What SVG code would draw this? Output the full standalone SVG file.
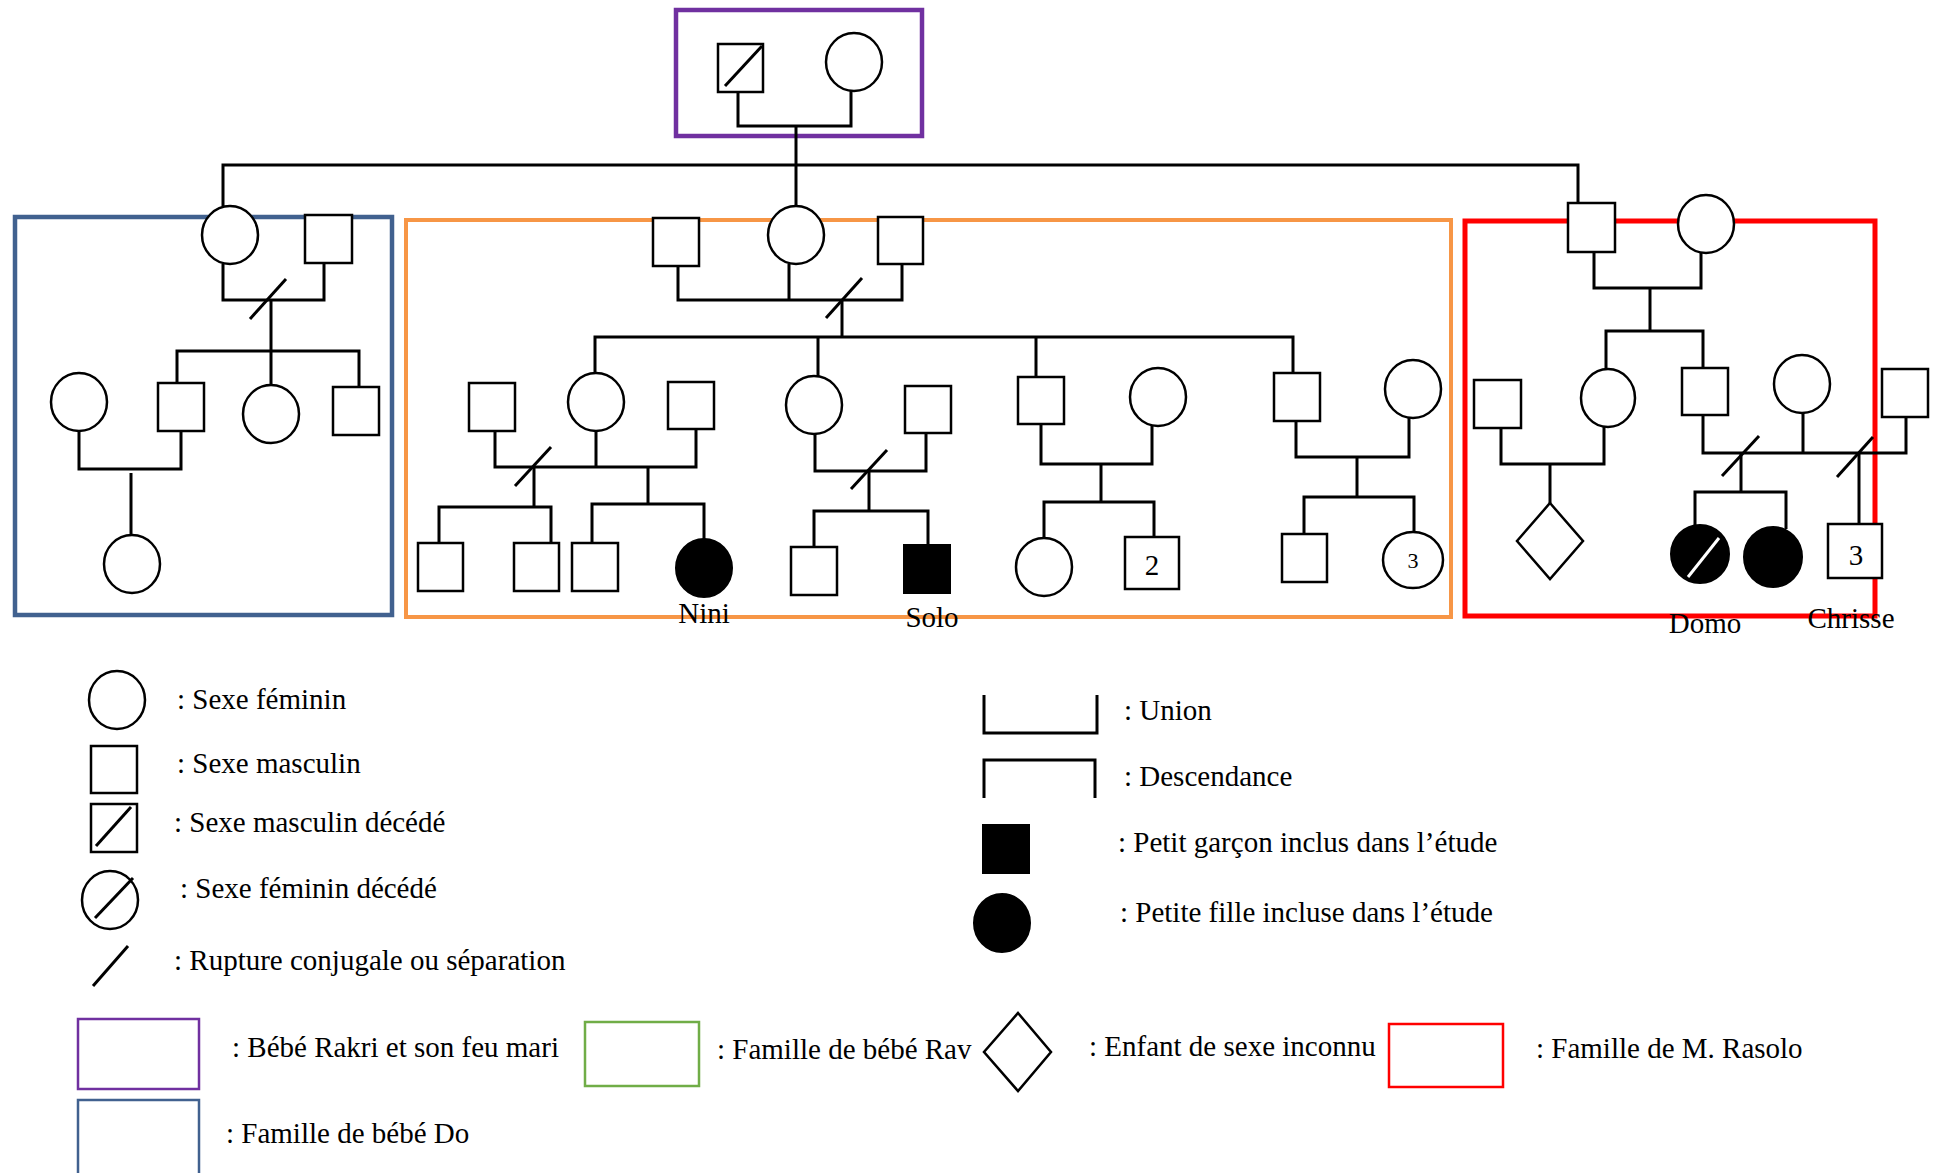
<svg xmlns="http://www.w3.org/2000/svg" width="1935" height="1173" viewBox="0 0 1935 1173">
<style>
.n{fill:#fff;stroke:#000;stroke-width:2.5}
.f{fill:#000;stroke:#000;stroke-width:2}
.c{fill:none;stroke:#000;stroke-width:3}
.t{font-family:"Liberation Serif","Times New Roman",serif;font-size:29px;fill:#000}
.lb{fill:none;stroke-width:2.5}
</style>
<rect width="1935" height="1173" fill="#fff"/>
<!-- family boxes -->
<g id="boxes" fill="none">
<rect id="box-rakri" x="676" y="10" width="246" height="126" stroke="#7030A0" stroke-width="4.5"/>
<rect id="box-do" x="15" y="217" width="377" height="398" stroke="#41618F" stroke-width="4.5"/>
<rect id="box-rav" x="406" y="220" width="1045" height="397" stroke="#F79646" stroke-width="4"/>
<rect id="box-rasolo" x="1465" y="221" width="410" height="395" stroke="#FF0000" stroke-width="5"/>
</g>
<!-- connectors -->
<g id="connectors">
<path class="c" d="M738,92 V126 H851 V91"/>
<path class="c" d="M796,126 V206"/>
<path class="c" d="M223,206 V165 H1578 V203"/>
<!-- blue family -->
<path class="c" d="M223,264 V300 H324 V263"/>
<path class="c" d="M271,300 V351"/>
<path class="c" d="M250,319 L286,279"/>
<path class="c" d="M177,383 V351 H359 V387 M271,351 V385"/>
<path class="c" d="M79,431 V469 H181 V431"/>
<path class="c" d="M131,473 V535"/>
<!-- orange family -->
<path class="c" d="M678,266 V300 H902 V264 M789,264 V300"/>
<path class="c" d="M842,300 V337"/>
<path class="c" d="M826,318 L862,278"/>
<path class="c" d="M595,373 V337 H1293 V373 M818,337 V377 M1036,337 V377"/>
<path class="c" d="M495,431 V467 H696 V429 M596,431 V467"/>
<path class="c" d="M515,486 L551,447"/>
<path class="c" d="M534,467 V507 M648,467 V504"/>
<path class="c" d="M439,543 V507 H551 V543"/>
<path class="c" d="M592,543 V504 H704 V540"/>
<path class="c" d="M815,434 V471 H926 V433"/>
<path class="c" d="M851,489 L887,450"/>
<path class="c" d="M869,471 V511"/>
<path class="c" d="M814,547 V511 H928 V545"/>
<path class="c" d="M1041,424 V464 H1152 V426"/>
<path class="c" d="M1101,464 V502"/>
<path class="c" d="M1044,538 V502 H1154 V537"/>
<path class="c" d="M1296,421 V457 H1409 V418"/>
<path class="c" d="M1357,457 V497"/>
<path class="c" d="M1304,534 V497 H1414 V532"/>
<!-- red family -->
<path class="c" d="M1594,252 V288 H1701 V253"/>
<path class="c" d="M1650,288 V331"/>
<path class="c" d="M1606,369 V331 H1703 V368"/>
<path class="c" d="M1501,428 V464 H1604 V427"/>
<path class="c" d="M1550,464 V503"/>
<path class="c" d="M1703,415 V453 H1906 V417 M1803,413 V453"/>
<path class="c" d="M1722,476 L1759,436"/>
<path class="c" d="M1741,453 V492"/>
<path class="c" d="M1695,526 V492 H1786 V529"/>
<path class="c" d="M1837,477 L1873,437"/>
<path class="c" d="M1859,453 V524"/>
</g>
<!-- nodes -->
<g id="rakri-husband"><rect class="n" x="718" y="44" width="45" height="48"/><path class="c" d="M725,86 L762,46"/></g>
<g id="rakri"><ellipse class="n" cx="854" cy="62" rx="28" ry="29"/></g>
<g id="do-mother"><ellipse class="n" cx="230" cy="235" rx="28" ry="29"/></g>
<g id="do-father"><rect class="n" x="305" y="215" width="47" height="48"/></g>
<g id="do-child1"><ellipse class="n" cx="79" cy="402" rx="28" ry="29"/></g>
<g id="do-child2"><rect class="n" x="158" y="383" width="46" height="48"/></g>
<g id="do-child3"><ellipse class="n" cx="271" cy="414" rx="28" ry="29"/></g>
<g id="do-child4"><rect class="n" x="333" y="387" width="46" height="48"/></g>
<g id="do-grandchild"><ellipse class="n" cx="132" cy="564" rx="28" ry="29"/></g>
<g id="rav-husband1"><rect class="n" x="653" y="218" width="46" height="48"/></g>
<g id="rav"><ellipse class="n" cx="796" cy="235" rx="28" ry="29"/></g>
<g id="rav-husband2"><rect class="n" x="878" y="217" width="45" height="47"/></g>
<g id="a-husband1"><rect class="n" x="469" y="383" width="46" height="48"/></g>
<g id="a-mother"><ellipse class="n" cx="596" cy="402" rx="28" ry="29"/></g>
<g id="a-husband2"><rect class="n" x="668" y="382" width="46" height="47"/></g>
<g id="a-child1"><rect class="n" x="418" y="543" width="45" height="48"/></g>
<g id="a-child2"><rect class="n" x="514" y="543" width="45" height="48"/></g>
<g id="a-child3"><rect class="n" x="572" y="543" width="46" height="48"/></g>
<g id="nini"><ellipse class="f" cx="704" cy="568" rx="28" ry="29"/><text class="t" x="704" y="623" text-anchor="middle">Nini</text></g>
<g id="b-mother"><ellipse class="n" cx="814" cy="405" rx="28" ry="29"/></g>
<g id="b-father"><rect class="n" x="905" y="386" width="46" height="47"/></g>
<g id="b-child"><rect class="n" x="791" y="547" width="46" height="48"/></g>
<g id="solo"><rect class="f" x="904" y="545" width="46" height="48"/><text class="t" x="932" y="627" text-anchor="middle">Solo</text></g>
<g id="c-father"><rect class="n" x="1018" y="377" width="46" height="47"/></g>
<g id="c-mother"><ellipse class="n" cx="1158" cy="397" rx="28" ry="29"/></g>
<g id="c-child1"><ellipse class="n" cx="1044" cy="567" rx="28" ry="29"/></g>
<g id="c-child2"><rect class="n" x="1125" y="537" width="54" height="52"/><text class="t" x="1152" y="575" text-anchor="middle">2</text></g>
<g id="d-father"><rect class="n" x="1274" y="373" width="46" height="48"/></g>
<g id="d-mother"><ellipse class="n" cx="1413" cy="389" rx="28" ry="29"/></g>
<g id="d-child1"><rect class="n" x="1282" y="534" width="45" height="48"/></g>
<g id="d-child2"><ellipse class="n" cx="1413" cy="560" rx="30" ry="28"/><text class="t" x="1413" y="568" text-anchor="middle" style="font-size:22px">3</text></g>
<g id="rasolo-father"><rect class="n" x="1568" y="203" width="47" height="49"/></g>
<g id="rasolo-mother"><ellipse class="n" cx="1706" cy="224" rx="28" ry="29"/></g>
<g id="e-father"><rect class="n" x="1474" y="380" width="47" height="48"/></g>
<g id="e-mother"><ellipse class="n" cx="1608" cy="398" rx="27" ry="29"/></g>
<g id="e-child"><polygon class="n" points="1550,503 1583,541 1550,579 1517,541"/></g>
<g id="f-father"><rect class="n" x="1682" y="368" width="46" height="47"/></g>
<g id="f-mother"><ellipse class="n" cx="1802" cy="384" rx="28" ry="29"/></g>
<g id="f-partner"><rect class="n" x="1882" y="369" width="46" height="48"/></g>
<g id="domo"><ellipse class="f" cx="1700" cy="554" rx="29" ry="29"/><path d="M1719,538 L1688,577" stroke="#fff" stroke-width="3"/><text class="t" x="1705" y="633" text-anchor="middle">Domo</text></g>
<g id="f-child2"><ellipse class="f" cx="1773" cy="557" rx="29" ry="30"/></g>
<g id="chrisse"><rect class="n" x="1828" y="524" width="54" height="54"/><text class="t" x="1856" y="565" text-anchor="middle">3</text><text class="t" x="1851" y="628" text-anchor="middle">Chrisse</text></g>
<!-- legend -->
<g id="legend">
<ellipse class="n" cx="117" cy="700" rx="28" ry="29"/>
<text class="t" x="177" y="709">: Sexe féminin</text>
<rect class="n" x="91" y="746" width="46" height="47"/>
<text class="t" x="177" y="773">: Sexe masculin</text>
<rect class="n" x="91" y="804" width="46" height="48"/>
<path class="c" d="M96,846 L131,807"/>
<text class="t" x="174" y="832">: Sexe masculin décédé</text>
<ellipse class="n" cx="110" cy="900" rx="28" ry="29"/>
<path class="c" d="M95,918 L133,878"/>
<text class="t" x="180" y="898">: Sexe féminin décédé</text>
<path class="c" d="M93,986 L128,946"/>
<text class="t" x="174" y="970">: Rupture conjugale ou séparation</text>
<rect class="lb" x="78" y="1019" width="121" height="70" stroke="#7030A0"/>
<text class="t" x="232" y="1057">: Bébé Rakri et son feu mari</text>
<rect class="lb" x="585" y="1022" width="114" height="64" stroke="#70AD47"/>
<text class="t" x="717" y="1059">: Famille de bébé Rav</text>
<rect class="lb" x="78" y="1100" width="121" height="75" stroke="#41618F"/>
<text class="t" x="226" y="1143">: Famille de bébé Do</text>
<path class="c" d="M984,695 V733 H1097 V695"/>
<text class="t" x="1124" y="720">: Union</text>
<path class="c" d="M984,798 V760 H1095 V798"/>
<text class="t" x="1124" y="786">: Descendance</text>
<rect class="f" x="983" y="825" width="46" height="48"/>
<text class="t" x="1118" y="852">: Petit garçon inclus dans l’étude</text>
<ellipse class="f" cx="1002" cy="923" rx="28" ry="29"/>
<text class="t" x="1120" y="922">: Petite fille incluse dans l’étude</text>
<polygon class="n" points="1018,1013 1051,1052 1018,1091 984,1052"/>
<text class="t" x="1089" y="1056">: Enfant de sexe inconnu</text>
<rect class="lb" x="1389" y="1024" width="114" height="63" stroke="#FF0000"/>
<text class="t" x="1536" y="1058">: Famille de M. Rasolo</text>
</g>
</svg>
